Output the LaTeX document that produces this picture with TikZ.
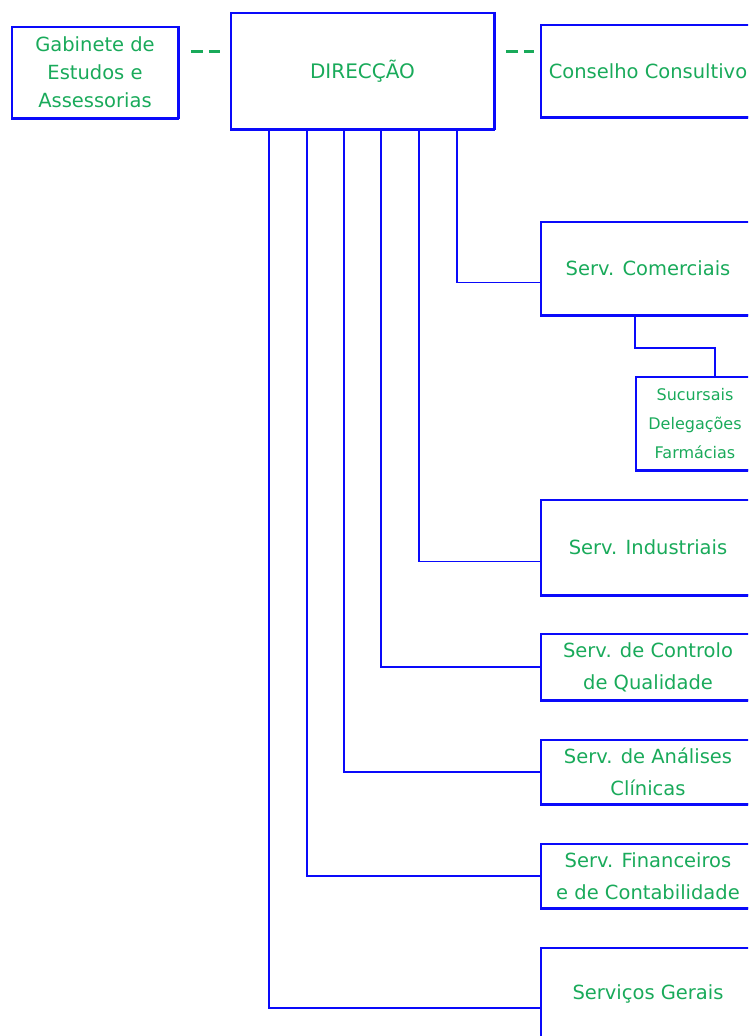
\documentclass[tikz,border=0pt]{standalone}
\usepackage{fontspec}
\setmainfont{DejaVu Sans}
\definecolor{orgblue}{RGB}{10,10,250}
\definecolor{orggreen}{RGB}{25,170,90}
\tikzset{
  unit/.style={draw=orgblue,line width=1.5pt,text=orggreen,align=center,
    inner sep=0pt,font=\fontsize{19.5}{32}\selectfont},
  serv/.style={unit,minimum width=214pt},
  link/.style={orgblue,line width=1.6pt},
  base/.style={orgblue,line width=3.4pt},
  advice/.style={orggreen,line width=2.4pt,dash pattern=on 12pt off 6pt},
}
\begin{document}
\begin{tikzpicture}[x=1pt,y=-1pt]
  \useasboundingbox (0,0) rectangle (748,1036);
  \clip (0,0) rectangle (748,1036);
  % top row
  \node[unit,minimum width=166pt,minimum height=91pt,font=\fontsize{19.5}{28}\selectfont]
    (gab) at (95,72.5) {Gabinete de\\Estudos e\\Assessorias};
  \node[unit,minimum width=263pt,minimum height=116pt,font=\fontsize{20}{32}\selectfont]
    (dir) at (362.5,71) {DIRECÇÃO};
  \node[serv,minimum height=92pt] (cons) at (648,71) {Conselho Consultivo};
  % services
  \node[serv,minimum height=93pt] (com) at (648,268.5) {Serv. Comerciais};
  \node[unit,minimum width=118pt,minimum height=93pt,font=\fontsize{16}{29}\selectfont]
    (suc) at (695,423.5) {Sucursais\\Delegações\\Farmácias};
  \node[serv,minimum height=95pt] (ind) at (648,547.5) {Serv. Industriais};
  \node[serv,minimum height=66pt] (ctl) at (648,667) {Serv. de Controlo\\de Qualidade};
  \node[serv,minimum height=64pt] (ana) at (648,772) {Serv. de Análises\\Clínicas};
  \node[serv,minimum height=64pt] (fin) at (648,876) {Serv. Financeiros\\e de Contabilidade};
  \node[serv,minimum height=92pt] (ger) at (648,994) {Serviços Gerais};
  % heavy lower edges
  \foreach \n in {gab,dir,cons,com,suc,ind,ctl,ana,fin}
    \draw[base] (\n.south west) -- (\n.south east);
  \draw[base] (gab.south east) -- (gab.north east);
  \draw[base] (dir.south east) -- (dir.north east);
  % advisory links
  \draw[advice,shorten <=12pt,shorten >=10pt]
    ([yshift=21pt]gab.east) -- ([yshift=21pt]gab.east -| dir.west);
  \draw[advice,shorten <=11pt,shorten >=6pt]
    ([yshift=21pt]gab.east -| dir.east) -- ([yshift=21pt]gab.east -| cons.west);
  % hierarchy
  \foreach \dx/\n/\dy in {39/ger/-14,77/fin/0,114/ana/0,151/ctl/0,189/ind/-14,227/com/-14}
    \draw[link] ([xshift=\dx pt]dir.south west) |- ([yshift=\dy pt]\n.west);
  \draw[link] ([xshift=-13pt]com.south) -- ++(0,32) -| ([xshift=20pt]suc.north);
\end{tikzpicture}
\end{document}
